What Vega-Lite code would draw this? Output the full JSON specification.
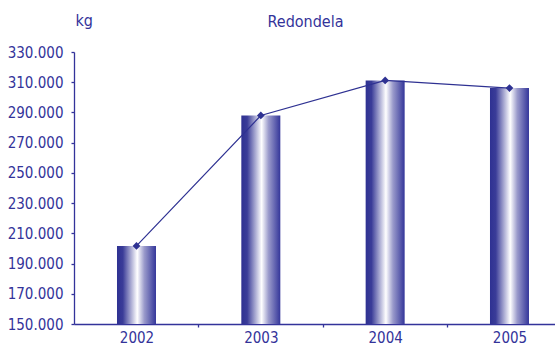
{
  "$schema": "https://vega.github.io/schema/vega-lite/v6.json",
  "width": 481,
  "height": 272,
  "autosize": "none",
  "padding": {"left": 74, "top": 52, "right": 0, "bottom": 21},
  "background": "white",
  "title": {
    "text": "Redondela",
    "anchor": "middle",
    "dx": -9,
    "fontSize": 16,
    "font": "DejaVu Sans Condensed, Roboto",
    "fontWeight": "normal",
    "color": "#33339a",
    "baseline": "alphabetic",
    "offset": -31
  },
  "config": {
    "view": {"stroke": null},
    "axis": {
      "labelFont": "DejaVu Sans Condensed, Roboto",
      "labelFontSize": 15,
      "labelColor": "#33339a",
      "titleFont": "DejaVu Sans Condensed, Roboto",
      "titleFontSize": 16,
      "titleFontWeight": "normal",
      "titleColor": "#33339a",
      "domainColor": "#33339a",
      "tickColor": "#33339a",
      "domainWidth": 1.3,
      "tickWidth": 1.3,
      "grid": false
    }
  },
  "data": {
    "values": [
      {"year": "2002", "kg": 201700},
      {"year": "2003", "kg": 288000},
      {"year": "2004", "kg": 311200},
      {"year": "2005", "kg": 306100}
    ]
  },
  "encoding": {
    "x": {
      "field": "year",
      "type": "ordinal",
      "scale": {"paddingInner": 0.6863, "paddingOuter": 0.2775, "align": 0.623},
      "axis": {
        "title": null,
        "labelAngle": 0,
        "tickOffset": 62,
        "labelOffset": -62,
        "tickSize": 3,
        "labelPadding": 3
      }
    },
    "y": {
      "field": "kg",
      "type": "quantitative",
      "scale": {"domain": [150000, 330000], "zero": false, "nice": false},
      "axis": {
        "title": "kg",
        "titleAngle": 0,
        "titleAlign": "left",
        "titleBaseline": "alphabetic",
        "titleX": 1,
        "titleY": -27,
        "values": [150000, 170000, 190000, 210000, 230000, 250000, 270000, 290000, 310000, 330000],
        "labelExpr": "replace(format(datum.value, ','), ',', '.')",
        "tickSize": 3,
        "labelPadding": 8
      }
    }
  },
  "layer": [
    {
      "mark": {
        "type": "bar",
        "fill": {
          "gradient": "linear",
          "x1": 0, "x2": 1, "y1": 0, "y2": 0,
          "stops": [
            {"offset": 0, "color": "#2e3192"},
            {"offset": 0.15, "color": "#3a3c98"},
            {"offset": 0.52, "color": "#ffffff"},
            {"offset": 0.7, "color": "#9a9acb"},
            {"offset": 1, "color": "#34369a"}
          ]
        }
      },
      "encoding": {"y2": {"datum": 150000}}
    },
    {
      "mark": {"type": "line", "color": "#2e3192", "strokeWidth": 1.2}
    },
    {
      "mark": {"type": "point", "shape": "diamond", "size": 60, "filled": true, "color": "#2e3192", "opacity": 1}
    }
  ]
}
